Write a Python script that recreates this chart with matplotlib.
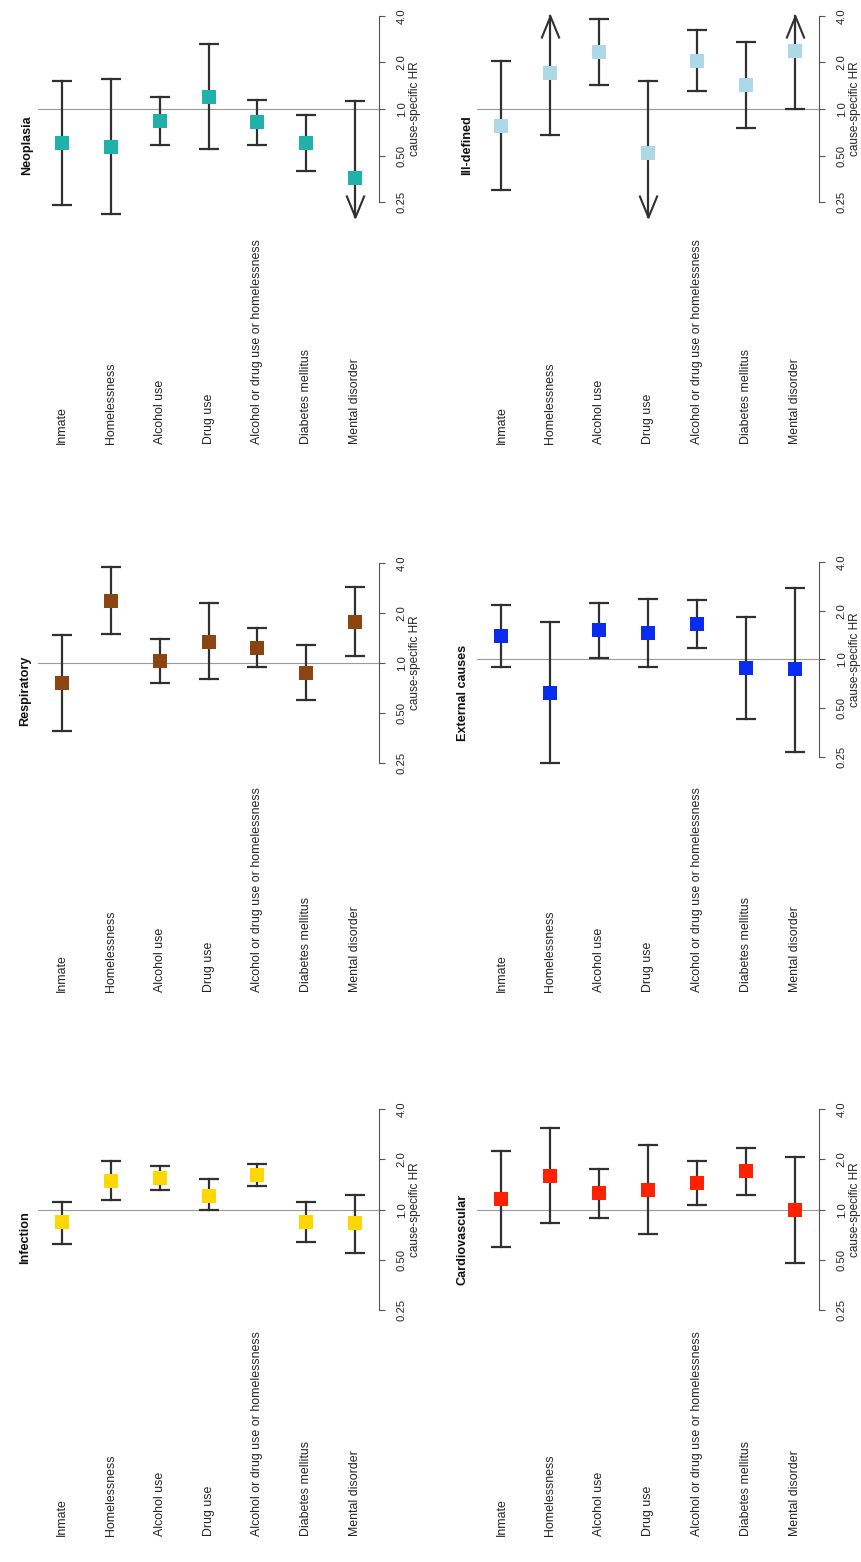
import numpy as np
import matplotlib
matplotlib.use("Agg")
import matplotlib.pyplot as plt
from matplotlib.path import Path
from matplotlib.ticker import NullLocator
from matplotlib.transforms import blended_transform_factory

plt.rcParams["font.family"] = ["Liberation Sans", "DejaVu Sans"]

# ---------------------------------------------------------------- data
categories = ["Inmate", "Homelessness", "Alcohol use", "Drug use",
              "Alcohol or drug use or homelessness", "Diabetes mellitus",
              "Mental disorder"]

infection_hr = [0.84, 1.48, 1.55, 1.21, 1.61, 0.84, 0.83]
infection_lo = [0.62, 1.14, 1.32, 0.99, 1.39, 0.64, 0.55]
infection_hi = [1.11, 1.97, 1.84, 1.52, 1.87, 1.11, 1.23]

respiratory_hr = [0.75, 2.34, 1.03, 1.34, 1.23, 0.87, 1.76]
respiratory_lo = [0.39, 1.49, 0.75, 0.80, 0.94, 0.60, 1.09]
respiratory_hi = [1.47, 3.75, 1.39, 2.29, 1.62, 1.27, 2.86]

neoplasia_hr = [0.60, 0.57, 0.84, 1.20, 0.82, 0.60, 0.36]
neoplasia_lo = [0.24, 0.21, 0.59, 0.55, 0.59, 0.40, 0.15]
neoplasia_hi = [1.52, 1.56, 1.19, 2.64, 1.14, 0.91, 1.13]

cardio_hr = [1.16, 1.60, 1.25, 1.31, 1.45, 1.70, 0.99]
cardio_lo = [0.60, 0.83, 0.89, 0.71, 1.06, 1.23, 0.48]
cardio_hi = [2.25, 3.07, 1.76, 2.45, 1.95, 2.35, 2.07]

external_hr = [1.40, 0.62, 1.51, 1.46, 1.66, 0.89, 0.87]
external_lo = [0.90, 0.23, 1.02, 0.90, 1.18, 0.43, 0.27]
external_hi = [2.18, 1.70, 2.23, 2.36, 2.31, 1.83, 2.76]

illdef_hr = [0.78, 1.72, 2.33, 0.52, 2.05, 1.42, 2.37]
illdef_lo = [0.30, 0.68, 1.42, 0.15, 1.31, 0.75, 1.00]
illdef_hi = [2.05, 5.00, 3.81, 1.52, 3.25, 2.71, 5.50]

hr_ticks = [0.25, 0.5, 1.0, 2.0, 4.0]
hr_tick_labels = ["0.25", "0.50", "1.0", "2.0", "4.0"]

# intervals running past these limits are drawn as arrows
CLIP_LO, CLIP_HI = 0.2, 4.0

# ---------------------------------------------------------------- style
W, H = 861, 1562
BAR = "#303030"
TEXT = "#222222"
AXIS = "#555555"

fig = plt.figure(figsize=(W / 100, H / 100), dpi=100)

# open chevrons for truncated intervals (tip at the data point)
down_head = Path([(-9, 22), (0, 0), (9, 22)],
                 [Path.MOVETO, Path.LINETO, Path.LINETO])
up_head = Path([(-9, -22), (0, 0), (9, -22)],
               [Path.MOVETO, Path.LINETO, Path.LINETO])
HEAD_MS = 44 / 1.389


def add_panel(title, color, hr, lo, hi, x0, x1, top, bottom, title_xy, label_y):
    ax = fig.add_axes([x0 / W, 1 - bottom / H, (x1 - x0) / W, (bottom - top) / H])
    ax.set_yscale("log", base=2)
    ax.set_ylim(0.25, 4.0)
    ax.set_xlim(-0.5, len(categories) - 0.5)
    ax.patch.set_visible(False)
    for s in ("top", "left", "bottom"):
        ax.spines[s].set_visible(False)
    ax.spines["right"].set_color(AXIS)
    ax.spines["right"].set_linewidth(0.8)

    ax.yaxis.set_ticks_position("right")
    ax.set_yticks(hr_ticks)
    ax.set_yticklabels(hr_tick_labels)
    ax.yaxis.set_minor_locator(NullLocator())
    ax.tick_params(axis="y", which="major", direction="out", length=4.3,
                   width=0.8, color=AXIS, labelsize=8.1, labelcolor=TEXT,
                   pad=8.5, labelrotation=90)
    for t in ax.get_yticklabels():
        t.set_verticalalignment("center")
    ax.set_xticks([])
    ax.yaxis.set_label_position("right")
    ax.set_ylabel("cause-specific HR", fontsize=8.5, color=TEXT, labelpad=1.5)

    ax.axhline(1.0, color="#9a9a9a", lw=0.8, zorder=1)

    xs = np.arange(len(categories))
    for i, (l, u) in enumerate(zip(lo, hi)):
        lc, uc = max(l, CLIP_LO), min(u, CLIP_HI)
        ax.plot([i, i], [lc, uc], color=BAR, lw=1.6, zorder=2, clip_on=False)
        if l >= CLIP_LO:
            ax.plot([i], [l], marker="_", ms=14.4, mew=1.6, color=BAR,
                    zorder=2, clip_on=False)
        else:
            ax.plot([i], [CLIP_LO], marker=down_head, ms=HEAD_MS, mew=1.5,
                    mfc="none", mec=BAR, zorder=2, clip_on=False)
        if u <= CLIP_HI:
            ax.plot([i], [u], marker="_", ms=14.4, mew=1.6, color=BAR,
                    zorder=2, clip_on=False)
        else:
            ax.plot([i], [CLIP_HI], marker=up_head, ms=HEAD_MS, mew=1.5,
                    mfc="none", mec=BAR, zorder=2, clip_on=False)

    ax.plot(xs, hr, linestyle="none", marker="s", ms=10.3, mew=0,
            color=color, zorder=3, clip_on=False)

    trans = blended_transform_factory(ax.transData, fig.transFigure)
    for i, cat in enumerate(categories):
        ax.text(i, 1 - label_y / H, cat, transform=trans, rotation=90,
                ha="center", va="bottom", fontsize=8.9, color=TEXT)

    fig.text(title_xy[0] / W, 1 - title_xy[1] / H, title, rotation=90,
             ha="center", va="center", fontsize=9.1, fontweight="bold",
             color="#111111")
    return ax


LX0, LX1 = 38, 379
RX0, RX1 = 477, 819

add_panel("Neoplasia", "#20B2AA", neoplasia_hr, neoplasia_lo, neoplasia_hi,
          LX0, LX1, 15.7, 202.3, (26.7, 145), 444)
add_panel("Ill-defined", "#ADD8E6", illdef_hr, illdef_lo, illdef_hi,
          RX0, RX1, 15.7, 202.3, (466.7, 145), 444)
add_panel("Respiratory", "#8B4513", respiratory_hr, respiratory_lo, respiratory_hi,
          LX0, LX1, 562.7, 762.7, (25, 691), 992)
add_panel("External causes", "#0A2BF0", external_hr, external_lo, external_hi,
          RX0, RX1, 561.7, 757.3, (463.3, 693), 992)
add_panel("Infection", "#FFD700", infection_hr, infection_lo, infection_hi,
          LX0, LX1, 1109.3, 1310, (25, 1238), 1536)
add_panel("Cardiovascular", "#FF2200", cardio_hr, cardio_lo, cardio_hi,
          RX0, RX1, 1109.3, 1310, (463, 1239), 1536)

fig.savefig("out.png", dpi=100)
